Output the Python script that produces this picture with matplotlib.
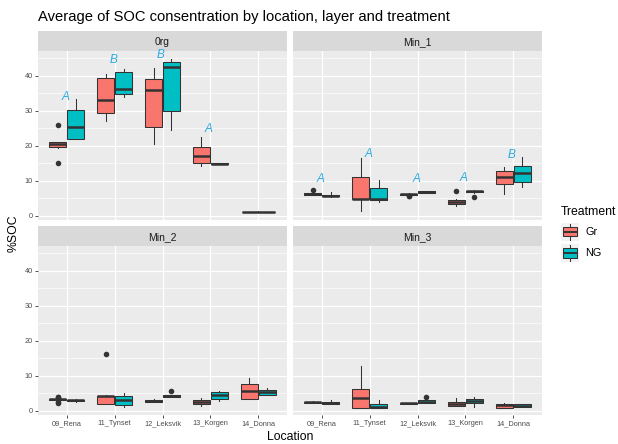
import numpy as np
import matplotlib
matplotlib.use("Agg")
import matplotlib.pyplot as plt

plt.rcParams['font.family'] = ['Liberation Sans', 'DejaVu Sans']

locations = ["09_Rena", "11_Tynset", "12_Leksvik", "13_Korgen", "14_Donna"]
treatments = ["Gr", "NG"]
layers = ["0rg", "Min_1", "Min_2", "Min_3"]

# box stats per location: (whislo, q1, median, q3, whishi, outliers)
org_gr = [(19.3, 19.5, 20.4, 21.0, 21.1, [25.9, 15.1]),
          (27.0, 29.4, 33.2, 39.4, 40.5, []),
          (20.6, 25.4, 36.0, 39.1, 42.1, []),
          (14.1, 15.0, 17.0, 19.5, 22.5, []),
          (1.0, 1.05, 1.1, 1.15, 1.2, [])]
org_ng = [(21.9, 21.9, 25.3, 30.2, 33.3, []),
          (34.0, 34.8, 36.1, 41.0, 41.9, []),
          (24.6, 29.8, 42.4, 44.0, 44.9, []),
          (14.7, 14.8, 14.9, 15.0, 15.0, []),
          None]
min1_gr = [(5.9, 6.0, 6.3, 6.5, 6.6, [7.4]),
           (1.4, 4.8, 4.9, 11.0, 16.6, []),
           (5.7, 5.8, 6.1, 6.3, 6.5, [5.5, 5.6]),
           (2.7, 3.2, 4.0, 4.6, 4.7, [7.1]),
           (6.2, 9.1, 11.1, 12.9, 14.0, [])]
min1_ng = [(5.4, 5.5, 5.7, 5.9, 6.7, []),
           (3.8, 4.5, 4.8, 7.8, 10.2, []),
           (6.5, 6.6, 6.8, 7.0, 7.0, []),
           (6.6, 6.7, 7.0, 7.1, 7.2, [5.2]),
           (8.3, 9.5, 12.1, 14.2, 16.7, [])]
min2_gr = [(2.9, 3.05, 3.2, 3.35, 3.5, [2.3, 2.5, 3.8, 3.9]),
           (1.9, 1.9, 4.1, 4.3, 4.4, [16.1]),
           (2.5, 2.6, 2.8, 3.0, 3.3, []),
           (1.4, 1.8, 2.4, 3.0, 3.5, []),
           (3.4, 3.4, 5.7, 7.6, 9.3, [])]
min2_ng = [(2.6, 2.8, 2.95, 3.05, 3.2, []),
           (1.1, 1.6, 3.0, 4.3, 5.0, []),
           (3.8, 4.0, 4.3, 4.5, 4.6, [5.6]),
           (2.8, 3.4, 4.4, 5.2, 5.7, []),
           (4.4, 4.4, 5.4, 6.0, 6.4, [])]
min3_gr = [(2.1, 2.2, 2.5, 2.6, 2.7, []),
           (0.9, 0.9, 3.5, 6.1, 12.8, []),
           (2.0, 2.05, 2.1, 2.2, 2.2, []),
           (1.3, 1.3, 2.0, 2.6, 3.5, []),
           (0.9, 0.9, 1.6, 2.0, 2.1, [])]
min3_ng = [(1.8, 1.9, 2.3, 2.5, 3.0, []),
           (0.9, 0.9, 1.0, 2.0, 3.0, []),
           (2.3, 2.3, 2.6, 3.0, 3.0, [3.8]),
           (1.1, 2.1, 2.8, 3.3, 3.9, []),
           (1.1, 1.1, 1.4, 1.8, 2.0, [])]

# significance letters (letter, y) per location
org_letters = [("A", 34.0), ("B", 44.5), ("B", 45.9), ("A", 24.7), None]
min1_letters = [("A", 10.4), ("A", 17.6), ("A", 10.4), ("A", 10.7), ("B", 17.3)]

layer_data = {
    "0rg": (org_gr, org_ng, org_letters),
    "Min_1": (min1_gr, min1_ng, min1_letters),
    "Min_2": (min2_gr, min2_ng, None),
    "Min_3": (min3_gr, min3_ng, None),
}

colors = {"Gr": "#F8766D", "NG": "#00BFC4"}
edge = "#333333"
letter_col = "#29ABE2"

W, H = 618, 444
fig = plt.figure(figsize=(W / 100, H / 100), dpi=100)


def px_axes(x0, y0, x1, y1):
    return fig.add_axes([x0 / W, 1 - y1 / H, (x1 - x0) / W, (y1 - y0) / H])


def to_stats(s):
    lo, q1, med, q3, hi, fl = s
    return dict(whislo=lo, q1=q1, med=med, q3=q3, whishi=hi, fliers=fl)


def draw_box(ax, s, pos, width, color):
    ax.bxp([to_stats(s)], positions=[pos], widths=width, patch_artist=True,
           showcaps=False, manage_ticks=False,
           boxprops=dict(facecolor=color, edgecolor=edge, linewidth=0.75),
           medianprops=dict(color=edge, linewidth=1.8),
           whiskerprops=dict(color=edge, linewidth=0.75),
           flierprops=dict(marker='o', markerfacecolor=edge,
                           markeredgecolor='none', markersize=4.0))


cols = [(38, 287), (293, 542)]
rows = [(31, 51, 220), (226, 246, 415)]
ylim = (-1.23, 47.06)

for i, layer in enumerate(layers):
    r, c = divmod(i, 2)
    x0, x1 = cols[c]
    s0, p0, p1 = rows[r]

    strip = px_axes(x0, s0, x1, p0)
    strip.set_facecolor("#D9D9D9")
    strip.set_xticks([])
    strip.set_yticks([])
    for sp in strip.spines.values():
        sp.set_visible(False)
    strip.text(0.5, 0.45, layer, ha='center', va='center', fontsize=7.5,
               color="#1A1A1A", transform=strip.transAxes)

    ax = px_axes(x0, p0, x1, p1)
    ax.set_facecolor("#EBEBEB")
    for sp in ax.spines.values():
        sp.set_visible(False)
    ax.set_xlim(0.4, 5.6)
    ax.set_ylim(*ylim)
    ax.set_yticks([0, 10, 20, 30, 40])
    ax.set_yticks([5, 15, 25, 35, 45], minor=True)
    ax.set_xticks(range(1, 6))
    ax.grid(True, which='major', color='white', linewidth=0.9)
    ax.grid(True, which='minor', axis='y', color='white', linewidth=0.45)
    ax.set_axisbelow(True)
    ax.tick_params(which='minor', length=0)
    ax.tick_params(which='major', length=2.2, width=0.6, color=edge,
                   labelsize=5.3, labelcolor="#4D4D4D", pad=1.5)
    if c == 1:
        ax.tick_params(axis='y', length=0, labelleft=False)
    if r == 0:
        ax.tick_params(axis='x', length=0, labelbottom=False)
    else:
        ax.set_xticklabels(locations)

    gr, ng, letters = layer_data[layer]
    for k in range(5):
        x = k + 1
        if gr[k] is not None and ng[k] is not None:
            draw_box(ax, gr[k], x - 0.1875, 0.35, colors["Gr"])
            draw_box(ax, ng[k], x + 0.1875, 0.35, colors["NG"])
        elif gr[k] is not None:
            draw_box(ax, gr[k], x, 0.7, colors["Gr"])
        elif ng[k] is not None:
            draw_box(ax, ng[k], x, 0.7, colors["NG"])
        if letters is not None and letters[k] is not None:
            txt, y = letters[k]
            ax.text(x - 0.03, y, txt, ha='center', va='center', fontsize=8.5,
                    style='italic', color=letter_col)

fig.text(38 / W, 1 - 17 / H, "Average of SOC consentration by location, layer and treatment",
         ha='left', va='center', fontsize=10.6, color='black')
fig.text(14 / W, 1 - 233 / H, "%SOC", rotation=90, ha='center', va='center',
         fontsize=8.8, color='black')
fig.text(290 / W, 1 - 437 / H, "Location", ha='center', va='center',
         fontsize=8.8, color='black')

# legend
fig.text(561 / W, 1 - 212 / H, "Treatment", ha='left', va='center',
         fontsize=8.8, color='black')
for j, t in enumerate(treatments):
    ky0 = 223 + j * 21
    key = px_axes(561, ky0, 579, ky0 + 18)
    key.set_facecolor("#F2F2F2")
    key.set_xlim(0, 1)
    key.set_ylim(0, 1)
    key.set_xticks([])
    key.set_yticks([])
    for sp in key.spines.values():
        sp.set_visible(False)
    key.bxp([dict(whislo=0.05, q1=0.25, med=0.5, q3=0.75, whishi=0.95, fliers=[])],
            positions=[0.5], widths=0.75, patch_artist=True, showcaps=False,
            manage_ticks=False,
            boxprops=dict(facecolor=colors[t], edgecolor=edge, linewidth=0.75),
            medianprops=dict(color=edge, linewidth=1.4),
            whiskerprops=dict(color=edge, linewidth=0.75))
    fig.text(585 / W, 1 - (ky0 + 9) / H, t, ha='left', va='center',
             fontsize=7.8, color='black')

fig.savefig("out.png", dpi=100)
